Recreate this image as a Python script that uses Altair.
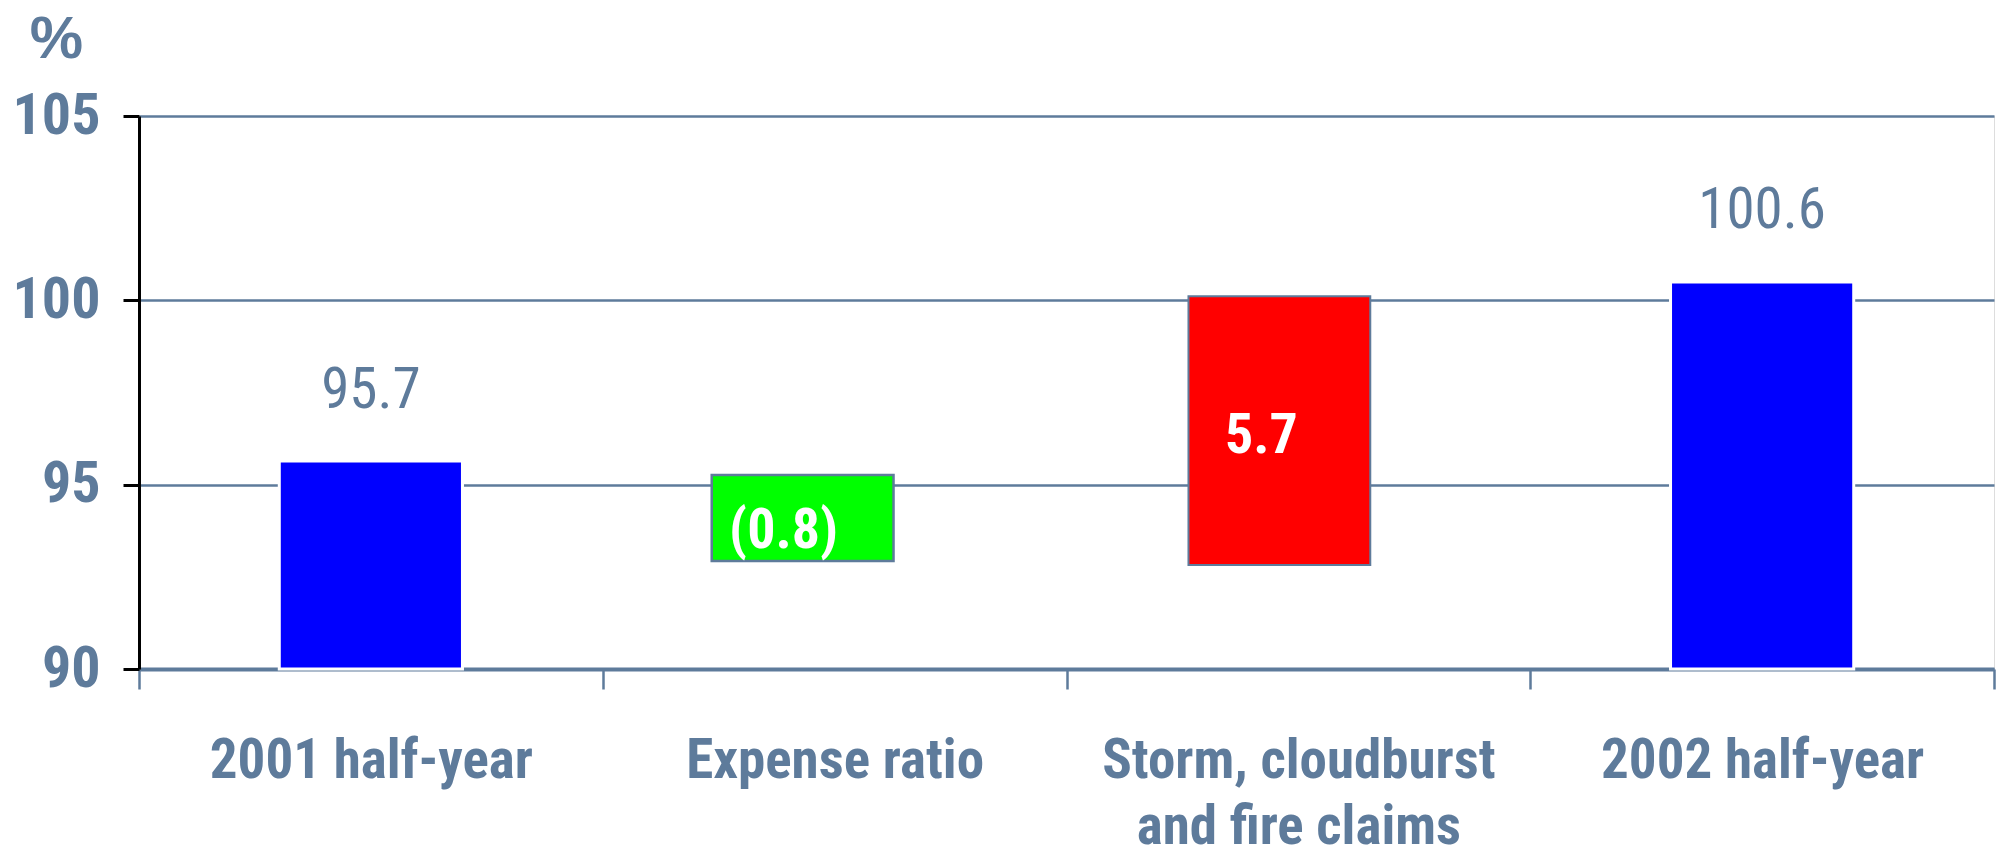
import altair as alt
import pandas as pd

categories = ["2001 half-year", "Expense ratio", "Storm, cloudburst and fire claims", "2002 half-year"]
bar_kind = ["total", "decrease", "increase", "total"]
bar_start = [90.0, 92.93, 92.82, 90.0]
bar_end = [95.64, 95.26, 100.11, 100.50]
value_labels = ["95.7", "(0.8)", "5.7", "100.6"]
label_y = [97.09, 93.28, 95.86, 101.96]
y_ticks = [90, 95, 100, 105]

df = pd.DataFrame({
    "category": categories,
    "kind": bar_kind,
    "start": bar_start,
    "end": bar_end,
    "label": value_labels,
    "label_y": label_y,
})

SLATE = "#5e7b9b"
NARROW = "Roboto Condensed, Liberation Sans, sans-serif"
KINDS = ["total", "decrease", "increase"]

x_enc = alt.X(
    "category:N",
    sort=categories,
    scale=alt.Scale(paddingInner=0, paddingOuter=0),
    axis=alt.Axis(
        title=None, tickBand="extent", grid=False,
        domainColor=SLATE, domainWidth=4,
        tickColor=SLATE, tickWidth=2.5, tickSize=20,
        labelAngle=0, labelFont=NARROW, labelFontWeight="bold", labelFontSize=55,
        labelColor=SLATE, labelPadding=45, labelLimit=1000, labelLineHeight=66,
        labelBaseline="top",
        labelExpr="datum.label == 'Storm, cloudburst and fire claims' ? ['Storm, cloudburst', 'and fire claims'] : datum.label",
    ),
)

y_axis = alt.Axis(
    values=y_ticks, title="%", titleAngle=0, titleFont="Liberation Sans",
    titleFontSize=60, titleFontWeight="bold", titleColor=SLATE,
    titleX=-83, titleY=-59, titleAlign="center", titleBaseline="alphabetic",
    domainColor="black", domainWidth=3, tickColor="black", tickWidth=3, tickSize=16,
    labelFont=NARROW, labelFontWeight="bold", labelFontSize=58, labelColor=SLATE,
    labelPadding=23, gridColor=SLATE, gridWidth=2.5,
)
y_scale = alt.Scale(domain=[90, 105], nice=False, zero=False)

fill_enc = alt.Color("kind:N", scale=alt.Scale(domain=KINDS, range=["#0000ff", "#00ff00", "#ff0000"]), legend=None)
stroke_enc = alt.Stroke("kind:N", scale=alt.Scale(domain=KINDS, range=["#ffffff", SLATE, SLATE]), legend=None)
sw_enc = alt.StrokeWidth("kind:N", scale=alt.Scale(domain=KINDS, range=[3, 2, 2]), legend=None)

base = alt.Chart(df)

# totals: centred in their band, value written above the bar
total_bars = base.transform_filter("datum.kind == 'total'").mark_bar(
    width=alt.RelativeBandSize(0.395)
).encode(
    x=x_enc, y=alt.Y("start:Q", scale=y_scale, axis=y_axis), y2="end:Q",
    color=fill_enc, stroke=stroke_enc, strokeWidth=sw_enc,
)
total_labels = base.transform_filter("datum.kind == 'total'").mark_text(
    font=NARROW, fontSize=57, color=SLATE, baseline="alphabetic", align="center"
).encode(
    x=x_enc, y=alt.Y("label_y:Q", scale=y_scale, axis=y_axis), text="label:N",
)

layers = [total_bars, total_labels]

# step bars sit a little left of their band centre in the original slide
for kind, shift, label_dx in [("decrease", -32, -51), ("increase", -19, -37)]:
    sub = base.transform_filter(f"datum.kind == '{kind}'")
    layers.append(sub.mark_bar(width=alt.RelativeBandSize(0.392), xOffset=shift, x2Offset=shift).encode(
        x=x_enc, y=alt.Y("start:Q", scale=y_scale, axis=y_axis), y2="end:Q",
        color=fill_enc, stroke=stroke_enc, strokeWidth=sw_enc,
    ))
    layers.append(sub.mark_text(
        font=NARROW, fontSize=56, fontWeight="bold", color="white",
        baseline="alphabetic", align="center", dx=label_dx
    ).encode(
        x=x_enc, y=alt.Y("label_y:Q", scale=y_scale, axis=y_axis), text="label:N",
    ))

chart = alt.layer(*layers).properties(
    width=1855,
    height=553,
    autosize=alt.AutoSizeParams(type="none"),
    padding={"left": 131, "top": 108, "right": 4, "bottom": 180},
).configure_view(stroke=SLATE, strokeWidth=3).configure(background="white")

chart.save("out.html", embed_options={"renderer": "svg", "actions": False})
